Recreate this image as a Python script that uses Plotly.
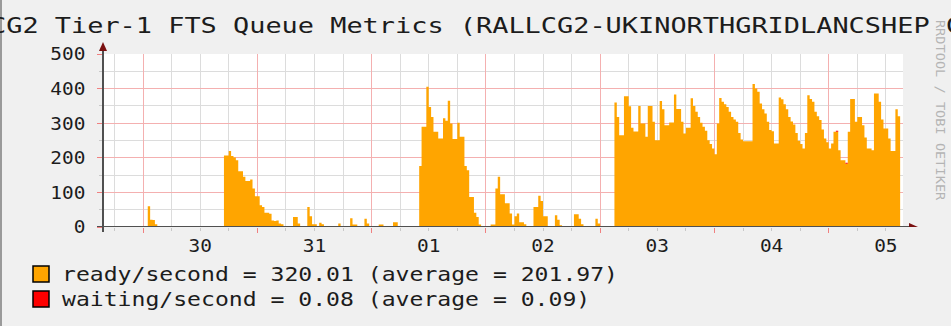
import pandas as pd
import plotly.graph_objects as go

# 30-minute samples, first sample starts at STEP_START
STEP_START = "2009-03-29 15:30"
WINDOW = ["2009-03-29 15:36", "2009-04-05 15:36"]

ready = [
    0, 0, 0, 0, 0, 0, 0, 0, 0, 0,
    0, 0, 0, 0, 0, 0, 0, 0, 0, 60,
    21, 20, 8, 0, 0, 0, 0, 0, 0, 0,
    0, 0, 0, 0, 0, 0, 0, 0, 0, 0,
    0, 0, 0, 0, 0, 0, 0, 0, 0, 0,
    0, 207, 207, 220, 205, 201, 193, 161, 161, 145,
    133, 133, 137, 111, 89, 89, 63, 58, 41, 41,
    38, 19, 17, 19, 10, 8, 0, 0, 0, 0,
    29, 29, 10, 0, 0, 0, 58, 31, 8, 8,
    0, 12, 8, 0, 0, 0, 0, 0, 0, 10,
    0, 0, 0, 0, 25, 7, 7, 0, 0, 0,
    24, 10, 0, 0, 0, 0, 7, 7, 0, 0,
    0, 0, 14, 14, 0, 0, 0, 0, 0, 0,
    0, 0, 0, 176, 290, 290, 405, 347, 318, 275,
    275, 256, 256, 314, 307, 365, 299, 254, 254, 301,
    261, 261, 176, 164, 87, 87, 41, 29, 7, 0,
    0, 0, 0, 7, 7, 111, 145, 95, 95, 69,
    69, 39, 7, 31, 39, 14, 14, 8, 0, 0,
    0, 58, 58, 90, 75, 31, 31, 0, 0, 0,
    34, 21, 5, 0, 0, 0, 0, 0, 37, 37,
    24, 8, 0, 0, 0, 0, 0, 24, 10, 0,
    0, 0, 0, 0, 0, 360, 318, 265, 265, 378,
    378, 349, 287, 276, 276, 350, 299, 299, 261, 350,
    350, 304, 251, 251, 364, 340, 294, 294, 302, 302,
    383, 341, 341, 304, 270, 287, 287, 372, 350, 333,
    318, 301, 290, 278, 251, 240, 227, 210, 299, 373,
    362, 355, 347, 333, 318, 311, 304, 272, 253, 248,
    248, 248, 248, 413, 400, 391, 357, 340, 328, 304,
    280, 277, 241, 241, 374, 369, 355, 340, 318, 305,
    296, 272, 249, 240, 227, 272, 381, 370, 362, 333,
    320, 309, 282, 256, 245, 227, 241, 275, 275, 222,
    193, 193, 183, 275, 370, 370, 304, 318, 318, 294,
    259, 227, 227, 222, 386, 386, 362, 311, 285, 285,
    256, 220, 220, 340, 320.01,
]

waiting_times = ["2009-04-05 01:30", "2009-04-05 03:30"]
waiting_vals = [3.0, 3.0]

legend_lines = [
    "ready/second = 320.01 (average = 201.97)",
    "waiting/second = 0.08 (average = 0.09)",
]
title_text = "RAL-LCG2 Tier-1 FTS Queue Metrics (RALLCG2-UKINORTHGRIDLANCSHEP Channel)"
watermark = "RRDTOOL / TOBI OETIKER"

ORANGE = "#FFA500"
RED = "#FF0000"
FONT = "DejaVu Sans Mono"
INK = "#1c1c1c"

# sample start times plus the closing edge of the last sample
times = pd.date_range(STEP_START, periods=len(ready) + 1, freq="30min")
ready_y = ready + [ready[-1]]
waiting_y = (
    pd.Series(waiting_vals, index=pd.to_datetime(waiting_times))
    .reindex(times, fill_value=0.0)
    .tolist()
)

# plot box in pixels
L, R, T, B = 103, 48, 54, 99
W, H = 951, 326
PW, PH = W - L - R, H - T - B


def px_x(px):
    return (px - L) / PW


def px_y(py):
    return (H - B - py) / PH


fig = go.Figure()
fig.add_trace(go.Scatter(
    x=times, y=ready_y, mode="lines", stackgroup="q",
    line=dict(width=0, shape="hv", color=ORANGE), fillcolor=ORANGE,
    hoverinfo="skip", showlegend=False,
))
fig.add_trace(go.Scatter(
    x=times, y=waiting_y, mode="lines", stackgroup="q",
    line=dict(width=0, shape="hv", color=RED), fillcolor=RED,
    hoverinfo="skip", showlegend=False,
))

MAJOR = "#F4B0B0"
MINOR = "#DCDCDC"

fig.update_layout(
    width=W, height=H,
    margin=dict(l=L, r=R, t=T, b=B, pad=0),
    paper_bgcolor="#F0F0F0", plot_bgcolor="#FFFFFF",
    showlegend=False,
    xaxis=dict(
        type="date", range=WINDOW, tick0="2009-03-30", dtick=86400000,
        tickformat="%d", ticklabelmode="period",
        showgrid=True, gridcolor=MAJOR, gridwidth=1,
        ticks="outside", ticklen=5, tickcolor="#F08080",
        ticklabelstandoff=-3,
        minor=dict(dtick=6 * 3600000, tick0="2009-03-30", showgrid=True,
                   gridcolor=MINOR, ticks="outside", ticklen=3, tickcolor="#C8C8C8"),
        showline=False, zeroline=False,
        tickfont=dict(family=FONT, size=18, color=INK),
    ),
    yaxis=dict(
        range=[0, 500], tick0=0, dtick=100,
        showgrid=True, gridcolor=MAJOR, gridwidth=1,
        ticks="outside", ticklen=5, tickcolor="#F08080",
        ticklabelstandoff=8,
        minor=dict(dtick=50, showgrid=True, gridcolor=MINOR,
                   ticks="outside", ticklen=3, tickcolor="#C8C8C8"),
        showline=False, zeroline=False,
        tickfont=dict(family=FONT, size=18, color=INK),
    ),
)

AXIS = "#505050"
ARROW = "#7A1010"
shapes = [
    # frame edge on the left
    dict(type="line", xref="paper", yref="paper", x0=px_x(1), x1=px_x(1),
         y0=px_y(H), y1=px_y(0), line=dict(color="#9A9A9A", width=2)),
    # x axis with arrow
    dict(type="line", xref="paper", yref="y", x0=px_x(97), x1=px_x(910),
         y0=0, y1=0, line=dict(color=AXIS, width=2)),
    dict(type="path", xref="paper", yref="y", xsizemode="pixel", ysizemode="pixel",
         xanchor=px_x(909), yanchor=0, path="M 0,-4 L 9,0 L 0,4 Z",
         fillcolor=ARROW, line=dict(width=0)),
    # y axis with arrow
    dict(type="line", xref="paper", yref="paper", x0=0, x1=0,
         y0=px_y(232), y1=px_y(50), line=dict(color=AXIS, width=2)),
    dict(type="path", xref="paper", yref="paper", xsizemode="pixel", ysizemode="pixel",
         xanchor=0, yanchor=px_y(51), path="M -4,0 L 4,0 L 0,9 Z",
         fillcolor=ARROW, line=dict(width=0)),
]

# legend swatches
for i, col in enumerate([ORANGE, RED]):
    cy = 274 + 25 * i
    shapes.append(dict(type="rect", xref="paper", yref="paper",
                       x0=px_x(33), x1=px_x(49), y0=px_y(cy + 8), y1=px_y(cy - 8),
                       fillcolor=col, line=dict(color="#000000", width=1.5)))
fig.update_layout(shapes=shapes)

annotations = [
    dict(text=title_text, xref="paper", yref="paper", x=px_x(-92), y=px_y(26),
         xanchor="left", yanchor="middle", align="left", showarrow=False,
         borderpad=0, font=dict(family=FONT, size=20.5, color=INK)),
    dict(text=watermark, xref="paper", yref="paper", x=px_x(941), y=px_y(110),
         xanchor="center", yanchor="middle", textangle=90, showarrow=False,
         borderpad=0, font=dict(family=FONT, size=13, color="#B4B4B4")),
]
for i, line in enumerate(legend_lines):
    annotations.append(dict(
        text=line, xref="paper", yref="paper", x=px_x(61), y=px_y(274 + 25 * i),
        xanchor="left", yanchor="middle", align="left", showarrow=False,
        borderpad=0, font=dict(family=FONT, size=19, color=INK)))
fig.update_layout(annotations=annotations)

# character pitch (px) of the monospaced labels
post = """
var gd = document.getElementById('{plot_id}');
function stretch(el, pitch) {
  var n = el.textContent.length;
  el.setAttribute('textLength', (n * pitch).toFixed(1));
  el.setAttribute('lengthAdjust', 'spacingAndGlyphs');
}
var pitches = {0: 16.2, 1: 8.2, 2: 13.9, 3: 13.9};
gd.querySelectorAll('g.annotation').forEach(function (g) {
  var p = pitches[g.getAttribute('data-index')];
  if (p) { g.querySelectorAll('text').forEach(function (t) { stretch(t, p); }); }
});
gd.querySelectorAll('g.xtick text, g.ytick text').forEach(function (t) { stretch(t, 11.7); });
"""

fig.write_html("out.html", post_script=post)
